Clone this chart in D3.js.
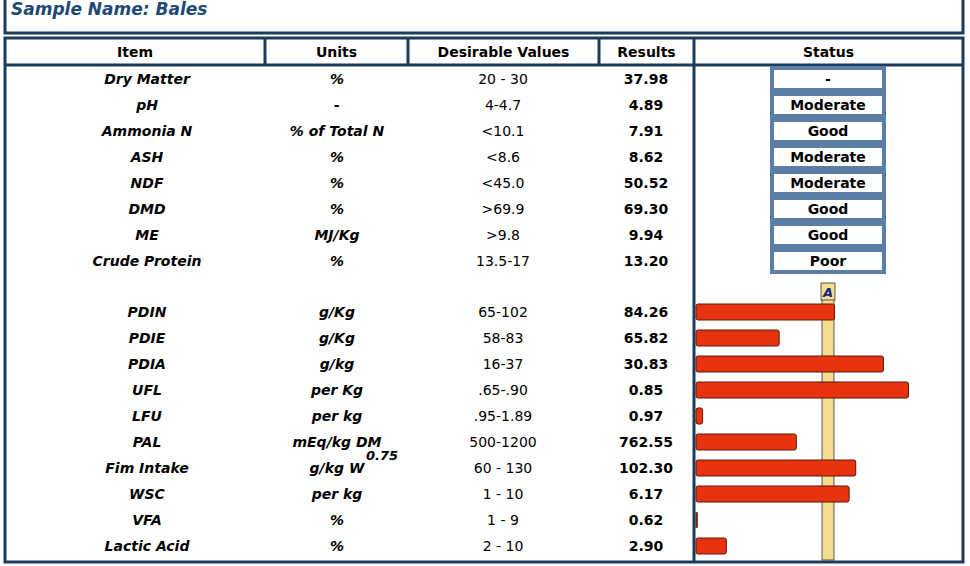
<!DOCTYPE html>
<html><head><meta charset="utf-8">
<script src="https://cdn.jsdelivr.net/npm/d3@7"></script>
<style>body{margin:0;background:#fff}text{font-family:Verdana,"DejaVu Sans",sans-serif}</style>
</head><body><svg id="c" width="970" height="566"></svg>
<script>
var columns = ["Item","Units","Desirable Values","Results","Status"]
var items = ["Dry Matter","pH","Ammonia N","ASH","NDF","DMD","ME","Crude Protein",
  "PDIN","PDIE","PDIA","UFL","LFU","PAL","Fim Intake","WSC","VFA","Lactic Acid"]
var units = ["%","-","% of Total N","%","%","%","MJ/Kg","%",
  "g/Kg","g/Kg","g/kg","per Kg","per kg","mEq/kg DM","g/kg W","per kg","%","%"]
var desirable = ["20 - 30","4-4.7","<10.1","<8.6","<45.0",">69.9",">9.8","13.5-17",
  "65-102","58-83","16-37",".65-.90",".95-1.89","500-1200","60 - 130","1 - 10","1 - 9","2 - 10"]
var results = ["37.98","4.89","7.91","8.62","50.52","69.30","9.94","13.20",
  "84.26","65.82","30.83","0.85","0.97","762.55","102.30","6.17","0.62","2.90"]
var statuses = ["-","Moderate","Good","Moderate","Moderate","Good","Good","Poor"]
// bar score, 100 = reference "A" line
var scores = [105,63,142,161,5,76,121,116,1,23]

var svg = d3.select("#c")
var navy = "#1b3a5c"
var colX = [5,265,408,599,694,963]
var rowY = items.map((d,i) => i < 8 ? 79 + i*26 : 312 + (i-8)*26)

svg.append("rect").attr("x",5).attr("y",-3).attr("width",958).attr("height",36)
  .attr("fill","none").attr("stroke",navy).attr("stroke-width",3)
svg.append("text").attr("x",11).attr("y",15).attr("fill","#1e4a78")
  .attr("font-size",17).attr("font-weight","bold").attr("font-style","italic")
  .text("Sample Name: Bales")

svg.append("rect").attr("x",5).attr("y",38).attr("width",958).attr("height",524)
  .attr("fill","none").attr("stroke",navy).attr("stroke-width",3)
svg.append("line").attr("x1",5).attr("x2",963).attr("y1",65).attr("y2",65)
  .attr("stroke",navy).attr("stroke-width",3)
colX.slice(1,5).forEach(x => {
  svg.append("line").attr("x1",x).attr("x2",x).attr("y1",38).attr("y2",x==694?562:65)
    .attr("stroke",navy).attr("stroke-width",3)
})
columns.forEach((c,i) => {
  svg.append("text").attr("x",(colX[i]+colX[i+1])/2).attr("y",57).attr("text-anchor","middle")
    .attr("font-size",14).attr("font-weight","bold").text(c)
})

var rows = svg.selectAll(".row").data(items).enter().append("g")
  .attr("transform",(d,i) => "translate(0,"+rowY[i]+")")
rows.append("text").attr("x",147).attr("y",5).attr("text-anchor","middle")
  .attr("font-size",14).attr("font-weight","bold").attr("font-style","italic").text(d => d)
rows.append("text").attr("x",337).attr("y",5).attr("text-anchor","middle")
  .attr("font-size",14).attr("font-weight","bold").attr("font-style","italic")
  .text((d,i) => units[i])
rows.append("text").attr("x",503).attr("y",5).attr("text-anchor","middle")
  .attr("font-size",14).text((d,i) => desirable[i])
rows.append("text").attr("x",646).attr("y",5).attr("text-anchor","middle")
  .attr("font-size",14).attr("font-weight","bold").text((d,i) => results[i])
// superscript for Fim Intake
svg.append("text").attr("x",366).attr("y",rowY[14]-8).attr("font-size",13)
  .attr("font-weight","bold").attr("font-style","italic").text("0.75")

var st = svg.selectAll(".st").data(statuses).enter().append("g")
  .attr("transform",(d,i) => "translate(770,"+(rowY[i]-13)+")")
st.append("rect").attr("width",116).attr("height",26).attr("fill","#5b7ea6")
st.append("rect").attr("x",4).attr("y",4).attr("width",108).attr("height",18).attr("fill","#fff")
st.append("text").attr("x",58).attr("y",18).attr("text-anchor","middle")
  .attr("font-size",14).attr("font-weight","bold").text(d => d)

var x = d3.scaleLinear().domain([0,100]).range([696,828])
svg.append("rect").attr("x",x(100)-6).attr("y",298).attr("width",12).attr("height",262)
  .attr("fill","#f5dc8e").attr("stroke","#333").attr("stroke-width",0.8)
svg.append("rect").attr("x",x(100)-7).attr("y",283).attr("width",14).attr("height",17)
  .attr("fill","#f5dc8e").attr("stroke","#333").attr("stroke-width",0.8)
svg.append("text").attr("x",x(100)).attr("y",297).attr("text-anchor","middle")
  .attr("font-size",13).attr("font-weight","bold").attr("font-style","italic")
  .attr("fill","#1a237e").text("A")

svg.selectAll(".bar").data(scores).enter().append("rect")
  .attr("x",x(0)).attr("y",(d,i) => rowY[i+8]-8)
  .attr("width",d => Math.max(1,x(d)-x(0))).attr("height",16).attr("rx",2)
  .attr("fill","#e8330f").attr("stroke","#5a1a0a").attr("stroke-width",1)
</script></body></html>
